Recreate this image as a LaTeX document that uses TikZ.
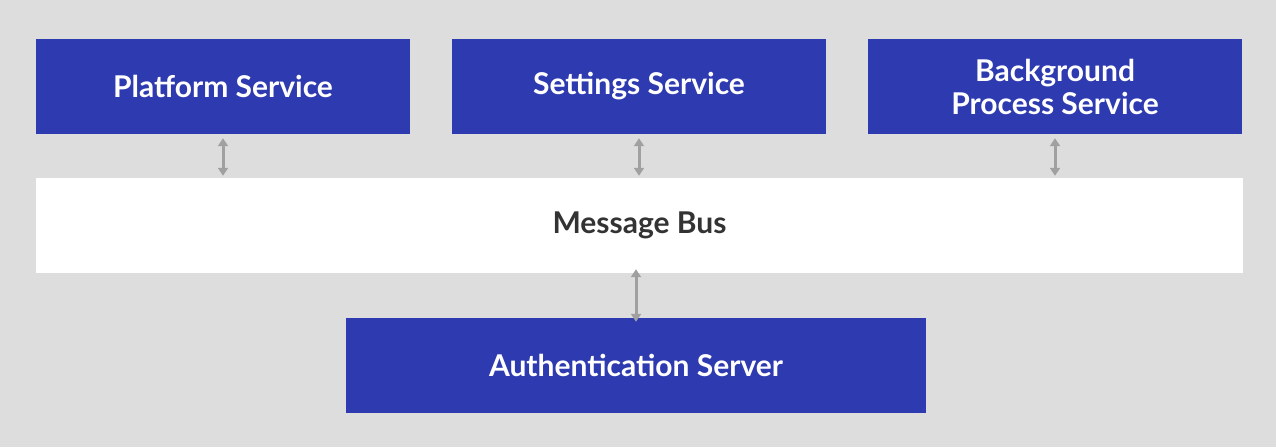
\documentclass[tikz,border=0pt]{standalone}
\usepackage{fontspec}
\setmainfont{Lato}
\usetikzlibrary{arrows.meta}
\definecolor{bgGray}{RGB}{221,221,221}
\definecolor{svcBlue}{RGB}{46,58,176}
\definecolor{arrGray}{RGB}{160,160,160}
\definecolor{busText}{RGB}{51,51,51}
\tikzset{
  svcbox/.style={fill=svcBlue, text=white, font=\bfseries\fontsize{30}{33}\selectfont,
    align=center, minimum height=95pt, inner sep=0pt},
  busbox/.style={fill=white, text=busText, font=\bfseries\fontsize{30}{33}\selectfont,
    minimum height=95pt, minimum width=1207pt, inner sep=0pt},
  link/.style={arrGray, line width=3pt, {Triangle[width=10pt,length=8pt]}-{Triangle[width=10pt,length=8pt]}}
}
\begin{document}
\begin{tikzpicture}[x=1pt,y=-1pt]
\fill[bgGray] (0,0) rectangle (1276,447);
\useasboundingbox (0,0) rectangle (1276,447);

% services
\node[svcbox, minimum width=374pt] (platform) at (223,86.5) {Platform Service};
\node[svcbox, minimum width=374pt] (settings) at (639,86.5) {Settings Service};
\node[svcbox, minimum width=374pt] (background) at (1055,86.5) {Background\\Process Service};

% bus
\node[busbox] (bus) at (639.5,225.5) {Message Bus};

% server
\node[svcbox, minimum width=580pt] (auth) at (636,365.5) {Authentication Server};

% links
\draw[link] ([yshift=-4pt]platform.south) -- ([yshift=2pt]platform.south |- bus.north);
\draw[link] ([yshift=-4pt]settings.south) -- ([yshift=2pt]settings.south |- bus.north);
\draw[link] ([yshift=-4pt]background.south) -- ([yshift=2pt]background.south |- bus.north);
\draw[link] ([yshift=-4pt]auth.north) -- ([yshift=4pt]auth.north |- bus.south);
\end{tikzpicture}
\end{document}
